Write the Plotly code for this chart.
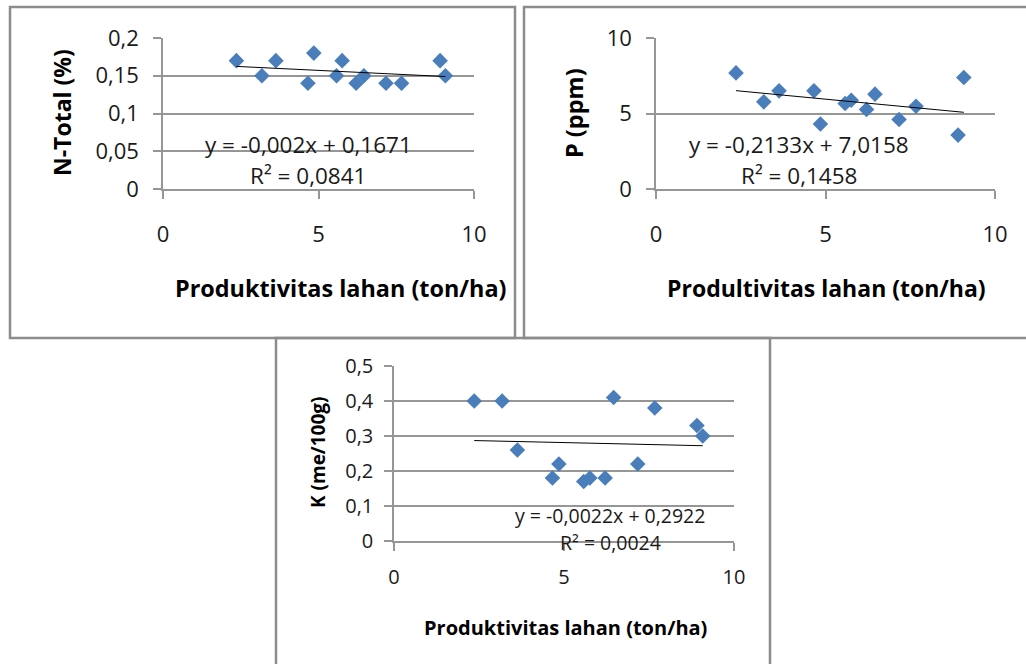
import plotly.graph_objects as go

# ---- data ----
x_prod = [2.36, 3.18, 3.63, 4.66, 4.85, 5.58, 5.76, 6.21, 6.46, 7.17, 7.67, 8.91, 9.08]
n_total = [0.17, 0.15, 0.17, 0.14, 0.18, 0.15, 0.17, 0.14, 0.15, 0.14, 0.14, 0.17, 0.15]
p_ppm = [7.69, 5.77, 6.50, 6.50, 4.30, 5.66, 5.88, 5.26, 6.28, 4.60, 5.48, 3.57, 7.38]
k_val = [0.40, 0.40, 0.26, 0.18, 0.22, 0.17, 0.18, 0.18, 0.41, 0.22, 0.38, 0.33, 0.30]

slopes = [-0.002, -0.2133, -0.0022]
intercepts = [0.1671, 7.0158, 0.2922]
eq_text = ["y = -0,002x + 0,1671", "y = -0,2133x + 7,0158", "y = -0,0022x + 0,2922"]
r2_text = ["R² = 0,0841", "R² = 0,1458", "R² = 0,0024"]

x_ticks = [0, 5, 10]
x_ticktext = ["0", "5", "10"]
y1_ticks = [0, 0.05, 0.1, 0.15, 0.2]
y1_ticktext = ["0", "0,05", "0,1", "0,15", "0,2"]
y2_ticks = [0, 5, 10]
y2_ticktext = ["0", "5", "10"]
y3_ticks = [0, 0.1, 0.2, 0.3, 0.4, 0.5]
y3_ticktext = ["0", "0,1", "0,2", "0,3", "0,4", "0,5"]

x_titles = ["Produktivitas lahan (ton/ha)", "Produltivitas lahan (ton/ha)", "Produktivitas lahan (ton/ha)"]
y_titles = ["N-Total (%)", "P (ppm)", "K (me/100g)"]

W, H = 1026, 664
FONT = "Open Sans"
BLUE = "#4A7EBB"
GRID = "#969696"
FRAME = "#8C8C8C"
TXT = "#1a1a1a"


def px(x):
    return x / W


def py(y):
    return 1 - y / H


fig = go.Figure()

series = [n_total, p_ppm, k_val]
for i, ys in enumerate(series):
    ax = "" if i == 0 else str(i + 1)
    fig.add_trace(go.Scatter(
        x=x_prod, y=ys, mode="markers", xaxis="x" + ax, yaxis="y" + ax,
        marker=dict(symbol="diamond", size=12, color=BLUE, line=dict(width=0)),
        showlegend=False, hoverinfo="x+y"))
    x0, x1 = min(x_prod), max(x_prod)
    fig.add_trace(go.Scatter(
        x=[x0, x1], y=[slopes[i] * x0 + intercepts[i], slopes[i] * x1 + intercepts[i]],
        mode="lines", xaxis="x" + ax, yaxis="y" + ax,
        line=dict(color="#000000", width=1), showlegend=False, hoverinfo="skip"))

# plot-area geometry (pixels, top-origin)
areas = [
    dict(l=163, r=474, t=38, b=189, yr=[0, 0.2], yt=y1_ticks, ytt=y1_ticktext, fs=22, xs=17, ys=10),
    dict(l=656, r=995, t=38, b=189, yr=[0, 10], yt=y2_ticks, ytt=y2_ticktext, fs=22, xs=17, ys=10),
    dict(l=394, r=734, t=366, b=541, yr=[0, 0.5], yt=y3_ticks, ytt=y3_ticktext, fs=20, xs=9, ys=7),
]

layout = {}
for i, a in enumerate(areas):
    ax = "" if i == 0 else str(i + 1)
    layout["xaxis" + ax] = dict(
        domain=[px(a["l"]), px(a["r"])], anchor="y" + ax, range=[0, 10],
        tickvals=x_ticks, ticktext=x_ticktext, showgrid=False, zeroline=False,
        showline=True, linecolor=GRID, linewidth=1.5, automargin=False,
        ticks="outside", ticklen=8, tickcolor=GRID, tickwidth=1.5,
        ticklabelstandoff=a["xs"], tickfont=dict(family=FONT, size=a["fs"], color=TXT),
        fixedrange=True)
    layout["yaxis" + ax] = dict(
        domain=[py(a["b"]), py(a["t"])], anchor="x" + ax, range=a["yr"],
        tickvals=a["yt"], ticktext=a["ytt"], showgrid=True, gridcolor=GRID, gridwidth=1.5,
        zeroline=False, showline=True, linecolor=GRID, linewidth=1.5, automargin=False,
        ticks="outside", ticklen=8, tickcolor=GRID, tickwidth=1.5,
        ticklabelstandoff=a["ys"], tickfont=dict(family=FONT, size=a["fs"], color=TXT),
        fixedrange=True)

annotations = []
xt_pos = [(340, 288, 23.4), (826, 288, 23), (565, 627, 20)]
yt_pos = [(62, 113, 23), (574, 113, 23.5), (318, 452, 19)]
eq_pos = [(308, 144, 176, 22.5), (799, 144, 176, 22.5), (610, 515, 542, 19.5)]
for i in range(3):
    x, y, s = xt_pos[i]
    annotations.append(dict(text="<b>" + x_titles[i] + "</b>", x=px(x), y=py(y), xref="paper", yref="paper",
                            showarrow=False, xanchor="center", yanchor="middle",
                            font=dict(family=FONT, size=s, color="#000")))
    x, y, s = yt_pos[i]
    annotations.append(dict(text="<b>" + y_titles[i] + "</b>", x=px(x), y=py(y), xref="paper", yref="paper",
                            showarrow=False, xanchor="center", yanchor="middle", textangle=-90,
                            font=dict(family=FONT, size=s, color="#000")))
    x, y1, y2, s = eq_pos[i]
    annotations.append(dict(text=eq_text[i], x=px(x), y=py(y1), xref="paper", yref="paper",
                            showarrow=False, xanchor="center", yanchor="middle",
                            font=dict(family=FONT, size=s, color=TXT)))
    annotations.append(dict(text=r2_text[i], x=px(x), y=py(y2), xref="paper", yref="paper",
                            showarrow=False, xanchor="center", yanchor="middle",
                            font=dict(family=FONT, size=s, color=TXT)))

# panel frames
frames = [(10, 7, 515, 338), (524, 7, 1030, 338), (276, 338, 770, 670)]
shapes = []
for (l, t, r, b) in frames:
    shapes.append(dict(type="rect", xref="paper", yref="paper",
                       x0=px(l), x1=px(r), y0=py(b), y1=py(t),
                       line=dict(color=FRAME, width=2.5), fillcolor="rgba(0,0,0,0)", layer="below"))

fig.update_layout(
    template="none",
    width=W, height=H, margin=dict(l=0, r=0, t=0, b=0, autoexpand=False),
    paper_bgcolor="white", plot_bgcolor="white",
    annotations=annotations, shapes=shapes, **layout)

fig.write_html("out.html", config={"displayModeBar": False},
               post_script="document.body.style.margin='0';document.body.style.overflow='hidden';")
